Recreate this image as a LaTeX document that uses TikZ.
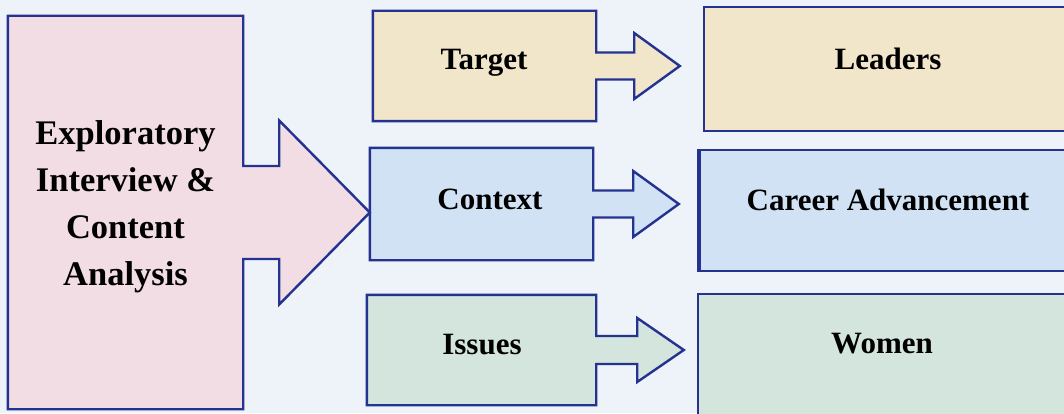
\documentclass[tikz,border=0pt]{standalone}
\usepackage{fontspec}
\setmainfont{Liberation Serif}
\usepackage{xcolor}
\usetikzlibrary{calc}

\definecolor{pagebg}{HTML}{EEF2F9}
\definecolor{edgeblue}{HTML}{24338F}
\definecolor{pinkfill}{HTML}{F2DDE4}
\definecolor{tanfill}{HTML}{F1E6CA}
\definecolor{bluefill}{HTML}{D2E2F5}
\definecolor{greenfill}{HTML}{D4E5DD}

\tikzset{
  outline/.style={draw=edgeblue, line width=2.4pt, line join=miter},
  boxtext/.style={inner sep=0pt, align=center, font=\fontsize{31}{47}\selectfont\bfseries},
  label/.style={boxtext, anchor=base},
}

% box node with a right arrow stuck on its east side
% #1 box, #2 fill, #3 half shaft, #4 half head, #5 shaft length, #6 tip
\newcommand{\callout}[6]{%
  \draw[outline, fill=#2] (#1.south west) -- (#1.north west) -- (#1.north east)
    -- ($(#1.east)+(0,#3)$) -- ++(#5,0) -- ++(0,#4-#3) -- (#6)
    -- ($(#1.east)+(#5,-#4)$) -- ++(0,#4-#3) -- ($(#1.east)+(0,-#3)$)
    -- (#1.south east) -- cycle;
}

\begin{document}
\begin{tikzpicture}[x=1pt,y=1pt]
  \useasboundingbox (0,0) rectangle (1064,413);
  \fill[pagebg] (0,0) rectangle (1064,413);
  \clip (0,0) rectangle (1064,413);
  %
  % Right column
  \node[outline, fill=tanfill, minimum width=368, minimum height=124] (leaders) at (888,344) {};
  \node[outline, fill=bluefill, minimum width=372, minimum height=121] (career) at (886,202.5) {};
  \node[outline, fill=greenfill, minimum width=374, minimum height=126] (women) at (885,56) {};
  \draw[edgeblue, line width=4.5pt] (career.south west) -- (career.north west);
  \node[label] (leaderstext) at (888,343) {Leaders};
  \node[label] (careertext) at (888,203) {Career Advancement};
  \node[label] (womentext) at (882,60) {Women};
  %
  % Middle column
  \node[minimum width=223, minimum height=110] (target) at (484.5,347) {};
  \node[minimum width=223, minimum height=112] (context) at (481.5,209) {};
  \node[minimum width=229, minimum height=110] (issues) at (481.5,63) {};
  \callout{target}{tanfill}{13.5}{33}{38}{$(target.east -| leaders.west)+(-23,0)$}
  \callout{context}{bluefill}{13.5}{33}{40}{$(context.east -| career.west)+(-20,0)$}
  \callout{issues}{greenfill}{14}{32}{41}{$(issues.east -| women.west)+(-13,0)$}
  \node[label] (targettext) at (484,343) {Target};
  \node[label] (contexttext) at (490,204) {Context};
  \node[label] (issuestext) at (482,59) {Issues};
  %
  % Left block
  \node[minimum width=235, minimum height=393] (explore) at (125.5,200.5) {};
  \callout{explore}{pinkfill}{46.5}{92}{36}{explore.east -| context.west}
  \node[boxtext, font=\fontsize{34.5}{47}\selectfont\bfseries] (exploretext) at (125.5,206)
    {Exploratory\\Interview \&\\Content\\Analysis};
\end{tikzpicture}
\end{document}
